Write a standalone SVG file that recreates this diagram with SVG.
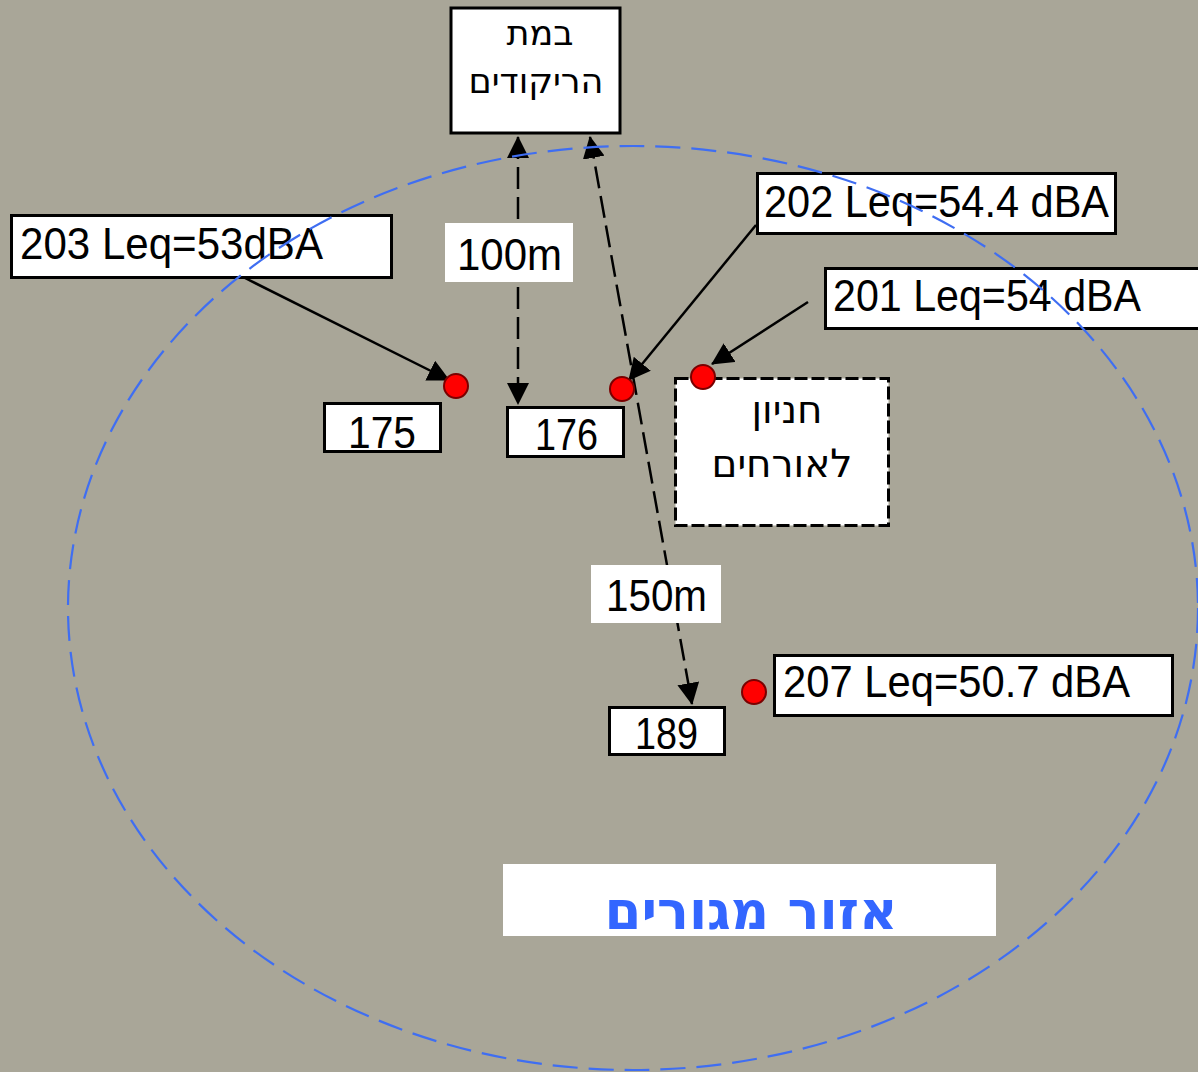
<svg xmlns="http://www.w3.org/2000/svg" width="1198" height="1072" viewBox="0 0 1198 1072">
  <style>
    .box { fill: #ffffff; stroke: #000000; stroke-width: 3; }
    .plain { fill: #ffffff; stroke: none; }
    .txt { font-family: "Liberation Sans", "DejaVu Sans", sans-serif; font-size: 44px; fill: #000000; }
    .heb { font-family: "DejaVu Sans", "Liberation Sans", sans-serif; fill: #000000; text-anchor: middle; }
    .dot { fill: #ff0000; stroke: #7a0000; stroke-width: 2; }
    .lead { stroke: #000000; stroke-width: 2.5; fill: none; marker-end: url(#head); }
    .dist { stroke: #000000; stroke-width: 2.5; fill: none; stroke-dasharray: 22 8; marker-start: url(#head); marker-end: url(#head); }
  </style>
  <defs>
    <marker id="head" markerUnits="userSpaceOnUse" markerWidth="22" markerHeight="22" refX="21" refY="11" orient="auto-start-reverse">
      <path d="M0,0 L22,11 L0,22 Z" fill="#000000"/>
    </marker>
  </defs>

  <rect width="1198" height="1072" fill="#a9a698"/>

  <!-- connectors -->
  <g id="connectors">
    <line class="dist" x1="518" y1="137" x2="518" y2="404"/>
    <line class="dist" x1="590" y1="137" x2="692" y2="704"/>
    <line class="lead" x1="245" y1="278" x2="449" y2="380"/>
    <line class="lead" x1="756" y1="225" x2="629" y2="380"/>
    <line class="lead" x1="808" y1="302" x2="712" y2="364"/>
  </g>

  <!-- distance labels -->
  <g id="label-100m">
    <rect class="plain" x="445" y="223" width="128" height="59"/>
    <text class="txt" x="457" y="270" textLength="105" lengthAdjust="spacingAndGlyphs">100m</text>
  </g>
  <g id="label-150m">
    <rect class="plain" x="591" y="565" width="130" height="58"/>
    <text class="txt" x="606" y="611" textLength="101" lengthAdjust="spacingAndGlyphs">150m</text>
  </g>

  <!-- dance stage -->
  <g id="stage">
    <rect class="box" x="451" y="8" width="169" height="125" stroke-width="4"/>
    <text class="heb" x="540" y="45" font-size="35">במת</text>
    <text class="heb" x="536" y="93" font-size="35">הריקודים</text>
  </g>

  <!-- guest parking -->
  <g id="parking">
    <rect x="675.5" y="378.5" width="213" height="147" fill="#ffffff" stroke="#000000" stroke-width="3" stroke-dasharray="13 4"/>
    <text class="heb" x="787" y="423" font-size="39">חניון</text>
    <text class="heb" x="782" y="477" font-size="39">לאורחים</text>
  </g>

  <!-- measurement points -->
  <g id="point-203">
    <rect class="box" x="11.5" y="215.5" width="380" height="62"/>
    <text class="txt" x="20" y="259" textLength="303" lengthAdjust="spacingAndGlyphs">203 Leq=53dBA</text>
    <circle class="dot" cx="456" cy="386" r="12"/>
  </g>
  <g id="point-202">
    <rect class="box" x="757.5" y="173.5" width="358" height="60"/>
    <text class="txt" x="764" y="217" textLength="345" lengthAdjust="spacingAndGlyphs">202 Leq=54.4 dBA</text>
    <circle class="dot" cx="622" cy="389" r="12"/>
  </g>
  <g id="point-201">
    <rect class="box" x="825.5" y="268.5" width="380" height="60"/>
    <text class="txt" x="833" y="311" textLength="308" lengthAdjust="spacingAndGlyphs">201 Leq=54 dBA</text>
    <circle class="dot" cx="703" cy="377" r="12"/>
  </g>
  <g id="point-207">
    <rect class="box" x="774.5" y="655.5" width="398" height="60"/>
    <text class="txt" x="783" y="697" textLength="347" lengthAdjust="spacingAndGlyphs">207 Leq=50.7 dBA</text>
    <circle class="dot" cx="754" cy="692" r="12"/>
  </g>

  <!-- house numbers -->
  <g id="house-175">
    <rect class="box" x="324.5" y="403.5" width="116" height="48"/>
    <text class="txt" x="348" y="448" textLength="68" lengthAdjust="spacingAndGlyphs">175</text>
  </g>
  <g id="house-176">
    <rect class="box" x="507.5" y="407.5" width="116" height="49"/>
    <text class="txt" x="535" y="450" textLength="63" lengthAdjust="spacingAndGlyphs">176</text>
  </g>
  <g id="house-189">
    <rect class="box" x="609.5" y="707.5" width="115" height="47"/>
    <text class="txt" x="635" y="749" textLength="63" lengthAdjust="spacingAndGlyphs">189</text>
  </g>

  <!-- residential zone -->
  <g id="zone-label">
    <rect class="plain" x="503" y="864" width="493" height="72"/>
    <text x="751" y="929" font-family="DejaVu Sans, Liberation Sans, sans-serif" font-size="53" font-weight="bold" fill="#3366ff" text-anchor="middle">אזור מגורים</text>
  </g>
  <g id="zone-boundary">
    <ellipse cx="633" cy="608" rx="565" ry="462" fill="none" stroke="#3f6ef2" stroke-width="2.2" stroke-dasharray="25 11"/>
  </g>
</svg>
